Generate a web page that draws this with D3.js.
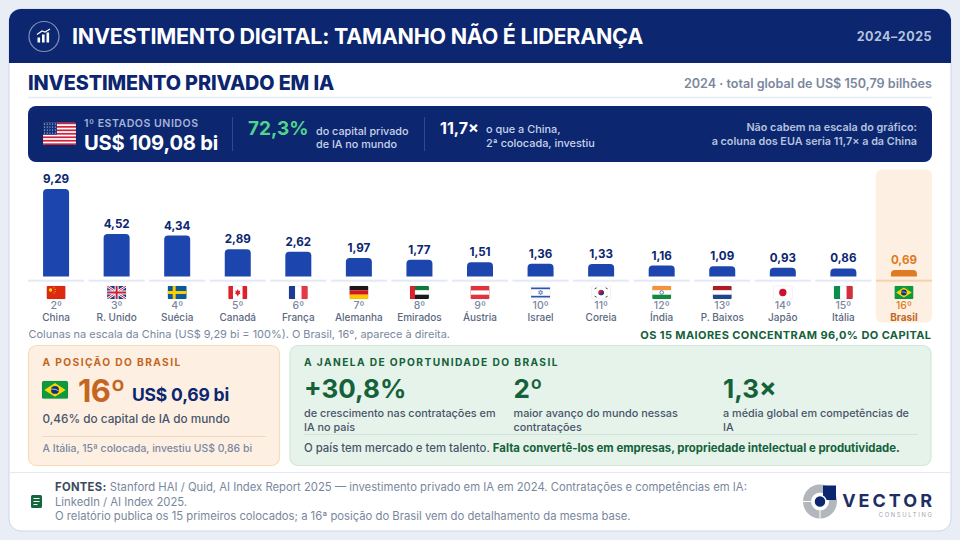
<!DOCTYPE html>
<html>
<head>
<meta charset="utf-8">
<script src="https://cdn.jsdelivr.net/npm/d3@7"></script>
<style>
  html, body { margin: 0; padding: 0; background: #e8edf6; }
  svg { display: block; font-family: Inter, "Noto Sans", sans-serif; }
</style>
</head>
<body>
<div id="chart"></div>
<script>
// data
const countries = ["China", "R. Unido", "Suécia", "Canadá", "França", "Alemanha", "Emirados", "Áustria", "Israel", "Coreia", "Índia", "P. Baixos", "Japão", "Itália", "Brasil"];
const ranks = ["2º", "3º", "4º", "5º", "6º", "7º", "8º", "9º", "10º", "11º", "12º", "13º", "14º", "15º", "16º"];
const values = [9.29, 4.52, 4.34, 2.89, 2.62, 1.97, 1.77, 1.51, 1.36, 1.33, 1.16, 1.09, 0.93, 0.86, 0.69];
const flagCodes = ["cn", "gb", "se", "ca", "fr", "de", "ae", "at", "il", "kr", "in", "nl", "jp", "it", "br"];

const navy = "#0c2670", blue = "#1c46ad", orange = "#e07b24", darkOrange = "#c4661f", green = "#14613a";
const fmt = v => v.toFixed(2).replace(".", ",");

const svg = d3.select("#chart").append("svg").attr("width", 960).attr("height", 540);
svg.append("rect").attr("width", 960).attr("height", 540).attr("fill", "#e8edf6");

const defs = svg.append("defs");
defs.append("clipPath").attr("id", "cardClip").append("rect")
  .attr("x", 9).attr("y", 9).attr("width", 942).attr("height", 522).attr("rx", 12);
defs.append("clipPath").attr("id", "flagClip").append("rect")
  .attr("width", 19).attr("height", 13).attr("rx", 1.2);

function txt(g, x, y, s, size, weight, fill, opts = {}) {
  const t = g.append("text").attr("x", x).attr("y", y)
    .attr("font-size", size).attr("font-weight", weight).attr("fill", fill)
    .attr("text-anchor", opts.anchor || "start")
    .text(s);
  if (opts.ls) t.attr("letter-spacing", opts.ls);
  return t;
}
function line(g, x1, x2, y1, y2, color, w) {
  g.append("line").attr("x1", x1).attr("x2", x2).attr("y1", y1).attr("y2", y2)
    .attr("stroke", color).attr("stroke-width", w || 1);
}

// card and header
svg.append("rect").attr("x", 9).attr("y", 9).attr("width", 942).attr("height", 522).attr("rx", 12)
  .attr("fill", "#fff").attr("stroke", "#ccd6ea").attr("stroke-width", 1);
svg.append("rect").attr("x", 9).attr("y", 9).attr("width", 942).attr("height", 54)
  .attr("fill", navy).attr("clip-path", "url(#cardClip)");

const icon = svg.append("g").attr("transform", "translate(44,36.5)");
icon.append("circle").attr("r", 15).attr("fill", "none").attr("stroke", "#7f90b8").attr("stroke-width", 1.2);
icon.selectAll("rect").data([[-6.5, 1, 2.6, 5], [-2, -2, 2.6, 8], [2.5, -4, 2.6, 10]]).join("rect")
  .attr("x", d => d[0]).attr("y", d => d[1]).attr("width", d => d[2]).attr("height", d => d[3]).attr("fill", "#fff");
icon.append("path").attr("d", "M-7,-2 L-2,-5.5 L1,-4.5 L6,-7.5").attr("fill", "none").attr("stroke", "#fff").attr("stroke-width", 1.2);

txt(svg, 72, 44, "INVESTIMENTO DIGITAL: TAMANHO NÃO É LIDERANÇA", 21.5, 700, "#fff", {ls: -0.25});
txt(svg, 932, 41, "2024–2025", 12.5, 700, "#b5c2de", {anchor: "end", ls: 0.5});

// section title
txt(svg, 28, 90, "INVESTIMENTO PRIVADO EM IA", 19.8, 800, navy, {ls: -0.1});
txt(svg, 932, 88, "2024 · total global de US$ 150,79 bilhões", 12.6, 600, "#7a879e", {anchor: "end"});
line(svg, 28, 932, 97.5, 97.5, "#e4e9f5", 1.5);

// flags, drawn on a 19x13 box
function drawFlag(parent, code, x, y, k) {
  const g = parent.append("g").attr("transform", `translate(${x},${y}) scale(${k})`);
  const f = g.append("g").attr("clip-path", "url(#flagClip)");
  const r = (a, b, w, h, c) => f.append("rect").attr("x", a).attr("y", b).attr("width", w).attr("height", h).attr("fill", c);
  const p = (d, c, sw) => f.append("path").attr("d", d).attr("fill", sw ? "none" : c).attr("stroke", sw ? c : "none").attr("stroke-width", sw || 0);
  const c = (a, b, rad, col) => f.append("circle").attr("cx", a).attr("cy", b).attr("r", rad).attr("fill", col);
  if (code === "us") {
    r(0, 0, 19, 13, "#fff");
    d3.range(0, 13, 2).forEach(i => r(0, i, 19, 1, "#d0243c"));
    r(0, 0, 8, 7, "#12317e");
    d3.range(4).forEach(i => d3.range(5).forEach(j => c(0.9 + j * 1.55, 0.9 + i * 1.7, 0.3, "#fff")));
  } else if (code === "cn") {
    r(0, 0, 19, 13, "#de2910");
    c(4, 4, 1.7, "#ffde00"); c(7.4, 1.8, .5, "#ffde00"); c(8.6, 3.4, .5, "#ffde00"); c(8.6, 5.4, .5, "#ffde00"); c(7.4, 7, .5, "#ffde00");
  } else if (code === "gb") {
    r(0, 0, 19, 13, "#1f3a8a");
    p("M0,0 L19,13 M19,0 L0,13", "#fff", 2.6);
    p("M0,0 L19,13 M19,0 L0,13", "#c8203a", 1);
    r(7.5, 0, 4, 13, "#fff"); r(0, 4.5, 19, 4, "#fff");
    r(8.5, 0, 2, 13, "#c8203a"); r(0, 5.5, 19, 2, "#c8203a");
  } else if (code === "se") {
    r(0, 0, 19, 13, "#0a5a9c"); r(5, 0, 3, 13, "#fecc00"); r(0, 5, 19, 3, "#fecc00");
  } else if (code === "ca") {
    r(0, 0, 19, 13, "#fff"); r(0, 0, 4.7, 13, "#e0202c"); r(14.3, 0, 4.7, 13, "#e0202c");
    p("M9.5,3 L10.5,5 L12,4.5 L11.5,7 L12.5,7.2 L10,9 L10,10.2 L9,10.2 L9,9 L6.5,7.2 L7.5,7 L7,4.5 L8.5,5 Z", "#e0202c");
  } else if (code === "fr") {
    r(0, 0, 6.4, 13, "#1f3a93"); r(6.4, 0, 6.3, 13, "#fff"); r(12.7, 0, 6.3, 13, "#e63946");
  } else if (code === "de") {
    r(0, 0, 19, 4.4, "#1a1a1a"); r(0, 4.4, 19, 4.3, "#d8141e"); r(0, 8.7, 19, 4.3, "#fcc900");
  } else if (code === "ae") {
    r(0, 0, 19, 4.4, "#0f7a3c"); r(0, 4.4, 19, 4.3, "#fff"); r(0, 8.7, 19, 4.3, "#1a1a1a"); r(0, 0, 5, 13, "#e0202c");
  } else if (code === "at") {
    r(0, 0, 19, 13, "#e0353f"); r(0, 4.4, 19, 4.3, "#fff");
  } else if (code === "il") {
    r(0, 0, 19, 13, "#fff"); r(0, 1.5, 19, 1.7, "#2c55b0"); r(0, 9.8, 19, 1.7, "#2c55b0");
    p("M9.5,4.3 L11.6,7.8 L7.4,7.8 Z M9.5,8.7 L7.4,5.2 L11.6,5.2 Z", "#2c55b0", 0.5);
  } else if (code === "kr") {
    r(0, 0, 19, 13, "#fff"); c(9.5, 6.5, 2.8, "#c8203a");
    p("M6.7,6.5 A2.8,2.8 0 0 0 12.3,6.5 A1.4,1.4 0 0 0 9.5,6.5 A1.4,1.4 0 0 1 6.7,6.5 Z", "#1f3a8a");
    p("M3,2.8 L5,1.8 M14,1.8 L16,2.8 M3,10.2 L5,11.2 M14,11.2 L16,10.2", "#333", 0.9);
  } else if (code === "in") {
    r(0, 0, 19, 4.4, "#f7933a"); r(0, 4.4, 19, 4.3, "#fff"); r(0, 8.7, 19, 4.3, "#138a3d");
    f.append("circle").attr("cx", 9.5).attr("cy", 6.5).attr("r", 1.8).attr("fill", "none").attr("stroke", "#22408f").attr("stroke-width", .7);
  } else if (code === "nl") {
    r(0, 0, 19, 4.4, "#ae1c28"); r(0, 4.4, 19, 4.3, "#fff"); r(0, 8.7, 19, 4.3, "#21468b");
  } else if (code === "jp") {
    r(0, 0, 19, 13, "#fff"); c(9.5, 6.5, 3.7, "#cf0f2e");
  } else if (code === "it") {
    r(0, 0, 6.4, 13, "#0b8f4d"); r(6.4, 0, 6.3, 13, "#fff"); r(12.7, 0, 6.3, 13, "#d4303c");
  } else if (code === "br") {
    r(0, 0, 19, 13, "#0d9a3f");
    p("M9.5,1.5 L17.3,6.5 L9.5,11.5 L1.7,6.5 Z", "#ffd500");
    c(9.5, 6.5, 2.9, "#10307e");
    p("M6.8,6 Q9.5,5.4 12.2,7.2", "#fff", 0.5);
  }
  g.append("rect").attr("width", 19).attr("height", 13).attr("rx", 1.2).attr("fill", "none")
    .attr("stroke", "#000").attr("stroke-opacity", 0.12).attr("stroke-width", 0.5);
}

// USA banner
const banner = svg.append("g");
banner.append("rect").attr("x", 28).attr("y", 106).attr("width", 904).attr("height", 56).attr("rx", 8).attr("fill", navy);
drawFlag(banner, "us", 43, 122.5, 33 / 19);
txt(banner, 84, 126.5, "1º ESTADOS UNIDOS", 10.6, 600, "#a5b3d6", {ls: 0.5});
txt(banner, 84, 150, "US$ 109,08 bi", 20.2, 700, "#fff", {ls: -0.2});
line(banner, 232.5, 232.5, 117, 151, "#32498c");
txt(banner, 248, 135, "72,3%", 19, 700, "#4fd58c");
txt(banner, 316, 135, "do capital privado", 10.8, 500, "#c8d3ea");
txt(banner, 316, 148, "de IA no mundo", 10.8, 500, "#c8d3ea");
line(banner, 424.5, 424.5, 117, 151, "#32498c");
txt(banner, 440, 134, "11,7×", 16, 700, "#fff");
txt(banner, 486, 133, "o que a China,", 10.9, 500, "#c8d3ea");
txt(banner, 486, 147, "2ª colocada, investiu", 10.9, 500, "#c8d3ea");
txt(banner, 917, 130.5, "Não cabem na escala do gráfico:", 10.8, 600, "#b5c2de", {anchor: "end"});
txt(banner, 917, 145, "a coluna dos EUA seria 11,7× a da China", 10.8, 600, "#b5c2de", {anchor: "end"});

// columns
const x = d3.scaleBand().domain(countries).range([28, 932]).paddingInner(0.073);
const y = d3.scaleLinear().domain([0, 9.29]).range([276.5, 189]);
const barW = 26;
const isBr = d => d === "Brasil";

const chart = svg.append("g");
chart.append("rect").attr("x", x("Brasil")).attr("y", 169.5).attr("width", x.bandwidth()).attr("height", 153)
  .attr("rx", 6).attr("fill", "#fdf0e3");

const col = chart.selectAll("g.col").data(countries).join("g").attr("class", "col");

col.append("rect").attr("x", d => x(d)).attr("y", 279.7).attr("width", x.bandwidth()).attr("height", 2)
  .attr("fill", d => isBr(d) ? "#f3d3ad" : "#e4e9f5");

col.append("path")
  .attr("fill", d => isBr(d) ? orange : blue)
  .attr("d", (d, i) => {
    const cx = x(d) + x.bandwidth() / 2, top = y(values[i]), base = y(0), rad = 4;
    const l = cx - barW / 2, r = cx + barW / 2;
    return `M${l},${base}V${top + rad}Q${l},${top} ${l + rad},${top}H${r - rad}Q${r},${top} ${r},${top + rad}V${base}Z`;
  });

col.append("text")
  .attr("x", d => x(d) + x.bandwidth() / 2)
  .attr("y", (d, i) => y(values[i]) - 6)
  .attr("text-anchor", "middle").attr("font-size", 11.6).attr("font-weight", 700)
  .attr("fill", d => isBr(d) ? orange : navy)
  .text((d, i) => fmt(values[i]));

col.each(function (d, i) {
  drawFlag(d3.select(this), flagCodes[i], x(d) + x.bandwidth() / 2 - 9.5, 286, 1);
});

col.append("text")
  .attr("x", d => x(d) + x.bandwidth() / 2).attr("y", 308.5)
  .attr("text-anchor", "middle").attr("font-size", 10.5).attr("font-weight", 500)
  .attr("fill", d => isBr(d) ? orange : "#7a879e")
  .text((d, i) => ranks[i]);

col.append("text")
  .attr("x", d => x(d) + x.bandwidth() / 2).attr("y", 320.5)
  .attr("text-anchor", "middle").attr("font-size", 10).attr("font-weight", d => isBr(d) ? 700 : 500)
  .attr("fill", d => isBr(d) ? darkOrange : "#5b6980")
  .text(d => d);

txt(svg, 28.5, 338, "Colunas na escala da China (US$ 9,29 bi = 100%). O Brasil, 16º, aparece à direita.", 10.95, 400, "#7a879e");
txt(svg, 931.5, 338.5, "OS 15 MAIORES CONCENTRAM 96,0% DO CAPITAL", 11, 700, green, {anchor: "end", ls: 0.4});

// Brazil card
const bc = svg.append("g");
bc.append("rect").attr("x", 28.5).attr("y", 345.5).attr("width", 251).attr("height", 120).attr("rx", 8)
  .attr("fill", "#fdf0e3").attr("stroke", "#f6dcbd").attr("stroke-width", 1.2);
txt(bc, 42.5, 365.5, "A POSIÇÃO DO BRASIL", 10.2, 700, darkOrange, {ls: 1.4});
drawFlag(bc, "br", 42, 381, 26 / 19);
txt(bc, 78, 401.5, "16º", 31, 700, darkOrange, {ls: -0.5});
txt(bc, 132, 401, "US$ 0,69 bi", 17.5, 700, navy, {ls: -0.2});
txt(bc, 42.5, 423, "0,46% do capital de IA do mundo", 11.75, 500, "#475569");
line(bc, 42, 266, 436.5, 436.5, "#f2d9bd");
txt(bc, 42.5, 452, "A Itália, 15ª colocada, investiu US$ 0,86 bi", 10.45, 500, "#7a879e");

// opportunity card
const gc = svg.append("g");
gc.append("rect").attr("x", 290).attr("y", 345.5).attr("width", 641).attr("height", 120).attr("rx", 8)
  .attr("fill", "#e6f3ea").attr("stroke", "#d2e7da").attr("stroke-width", 1.2);
txt(gc, 304, 365.5, "A JANELA DE OPORTUNIDADE DO BRASIL", 10.2, 700, green, {ls: 1.4});
txt(gc, 304, 398, "+30,8%", 26, 700, green);
txt(gc, 513.5, 398, "2º", 26, 700, green);
txt(gc, 723, 398, "1,3×", 26, 700, green);
txt(gc, 304, 417, "de crescimento nas contratações em", 10.85, 500, "#475569");
txt(gc, 304, 431, "IA no país", 10.85, 500, "#475569");
txt(gc, 513.5, 417, "maior avanço do mundo nessas", 10.85, 500, "#475569");
txt(gc, 513.5, 431, "contratações", 10.85, 500, "#475569");
txt(gc, 723, 417, "a média global em competências de", 10.85, 500, "#475569");
txt(gc, 723, 431, "IA", 10.85, 500, "#475569");
line(gc, 304, 918, 434.5, 434.5, "#cfe3d6");
const last = txt(gc, 304, 452, "O país tem mercado e tem talento. ", 11.36, 500, "#475569");
last.append("tspan").attr("font-weight", 700).attr("fill", green)
  .text("Falta convertê-los em empresas, propriedade intelectual e produtividade.");

// footer
line(svg, 9, 951, 472.5, 472.5, "#e4e9f5", 1);
const doc = svg.append("g").attr("transform", "translate(31,495)");
doc.append("rect").attr("width", 11).attr("height", 13).attr("rx", 1.5).attr("fill", "#14673c");
doc.selectAll("line").data([3.5, 6.5, 9.5]).join("line")
  .attr("x1", 2.5).attr("x2", (d, i) => i === 2 ? 6.5 : 8.5).attr("y1", d => d).attr("y2", d => d)
  .attr("stroke", "#fff").attr("stroke-width", 1);
const f1 = txt(svg, 55, 491, "FONTES:", 11.27, 700, "#3c4a60", {ls: 0.3});
f1.append("tspan").attr("font-weight", 400).attr("fill", "#7a879e").attr("letter-spacing", 0)
  .text(" Stanford HAI / Quid, AI Index Report 2025 — investimento privado em IA em 2024. Contratações e competências em IA:");
txt(svg, 55, 505.5, "LinkedIn / AI Index 2025.", 11.27, 400, "#7a879e");
txt(svg, 55, 520, "O relatório publica os 15 primeiros colocados; a 16ª posição do Brasil vem do detalhamento da mesma base.", 11.27, 400, "#7a879e");

// logo
const logo = svg.append("g").attr("transform", "translate(820,501.5)");
logo.append("circle").attr("r", 13).attr("fill", "none").attr("stroke", "#b3b7bd").attr("stroke-width", 8);
logo.selectAll("line").data([[-17, 0, -9, 0], [0, 9, 0, 17]]).join("line")
  .attr("x1", d => d[0]).attr("y1", d => d[1]).attr("x2", d => d[2]).attr("y2", d => d[3])
  .attr("stroke", "#fff").attr("stroke-width", 1);
logo.append("rect").attr("x", 3).attr("y", -16).attr("width", 13).attr("height", 14.5).attr("fill", navy);
logo.append("circle").attr("r", 6).attr("fill", navy).attr("stroke", "#fff").attr("stroke-width", 1.5);
txt(svg, 935, 506.5, "VECTOR", 18, 700, "#1e2f66", {anchor: "end", ls: 3});
txt(svg, 933.5, 516.5, "CONSULTING", 5.8, 400, "#a0a6b0", {anchor: "end", ls: 1.7});
</script>
</body>
</html>
